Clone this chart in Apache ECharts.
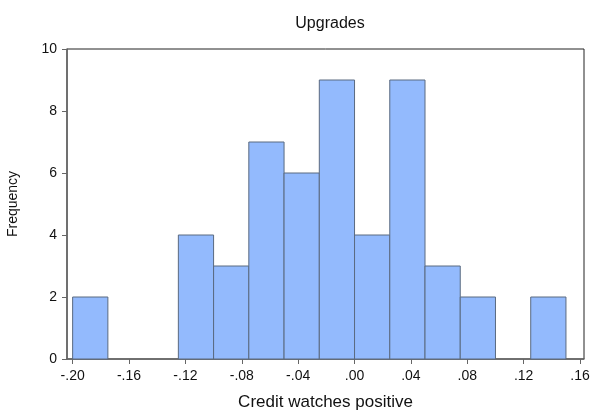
<!DOCTYPE html>
<html>
<head>
<meta charset="utf-8">
<script src="https://cdn.jsdelivr.net/npm/echarts@6/dist/echarts.min.js"></script>
<style>
  html, body { margin: 0; padding: 0; background: #fff; }
  #chart { width: 592px; height: 416px; }
</style>
</head>
<body>
<div id="chart"></div>
<script>
// Histogram of credit watches (positive), bins of width 0.025
const binStarts = [-0.200, -0.175, -0.150, -0.125, -0.100, -0.075, -0.050, -0.025, 0.000, 0.025, 0.050, 0.075, 0.100, 0.125];
const counts    = [2, 0, 0, 4, 3, 7, 6, 9, 4, 9, 3, 2, 0, 2];
const binWidth = 0.025;
const xTicks = [-0.20, -0.16, -0.12, -0.08, -0.04, 0.00, 0.04, 0.08, 0.12, 0.16];

function fmtX(v) {
  const s = Math.abs(v).toFixed(2).replace(/^0/, '');
  return (v < -1e-9 ? '-' : '') + s;
}

const chart = echarts.init(document.getElementById('chart'));
const font = 'Liberation Sans, Arial, sans-serif';

chart.setOption({
  animation: false,
  title: {
    text: 'Upgrades',
    left: 325, top: 11, textAlign: 'center',
    textStyle: { fontFamily: font, fontSize: 16, fontWeight: 'normal', color: '#111' }
  },
  grid: {
    left: 67, right: 8, top: 49, bottom: 57,
    outerBoundsMode: 'none',
    containLabel: false,
    show: true, borderColor: '#222', borderWidth: 1, backgroundColor: '#fff'
  },
  xAxis: {
    type: 'value',
    min: -0.204, max: 0.1628,
    name: 'Credit watches positive',
    nameLocation: 'middle', nameGap: 35,
    nameTextStyle: { fontFamily: font, fontSize: 17, color: '#111' },
    axisLine: { show: true, onZero: false, lineStyle: { color: '#666', width: 1.5 } },
    axisTick: { show: true, length: 5, inside: false, customValues: xTicks, lineStyle: { color: '#666' } },
    axisLabel: {
      customValues: xTicks, formatter: fmtX, margin: 10,
      fontFamily: font, fontSize: 14, color: '#111'
    },
    splitLine: { show: false }
  },
  yAxis: {
    type: 'value',
    min: 0, max: 10, interval: 2,
    name: 'Frequency',
    nameLocation: 'middle', nameGap: 47, nameRotate: 90,
    nameTextStyle: { fontFamily: font, fontSize: 14, color: '#111' },
    axisLine: { show: true, onZero: false, lineStyle: { color: '#666', width: 1.5 } },
    axisTick: { show: true, length: 5, lineStyle: { color: '#666' } },
    axisLabel: { margin: 10, fontFamily: font, fontSize: 14, color: '#111' },
    splitLine: { show: false }
  },
  series: [{
    type: 'custom',
    data: binStarts.map((s, i) => [s, s + binWidth, counts[i]]),
    encode: { x: [0, 1], y: 2 },
    renderItem: function (params, api) {
      const h = api.value(2);
      if (h <= 0) return null;
      const p0 = api.coord([api.value(0), h]);
      const p1 = api.coord([api.value(1), 0]);
      return {
        type: 'rect',
        shape: { x: p0[0], y: p0[1], width: p1[0] - p0[0], height: p1[1] - p0[1] },
        style: { fill: '#93bafd', stroke: '#5a6a80', lineWidth: 1 }
      };
    }
  }]
});
</script>
</body>
</html>
